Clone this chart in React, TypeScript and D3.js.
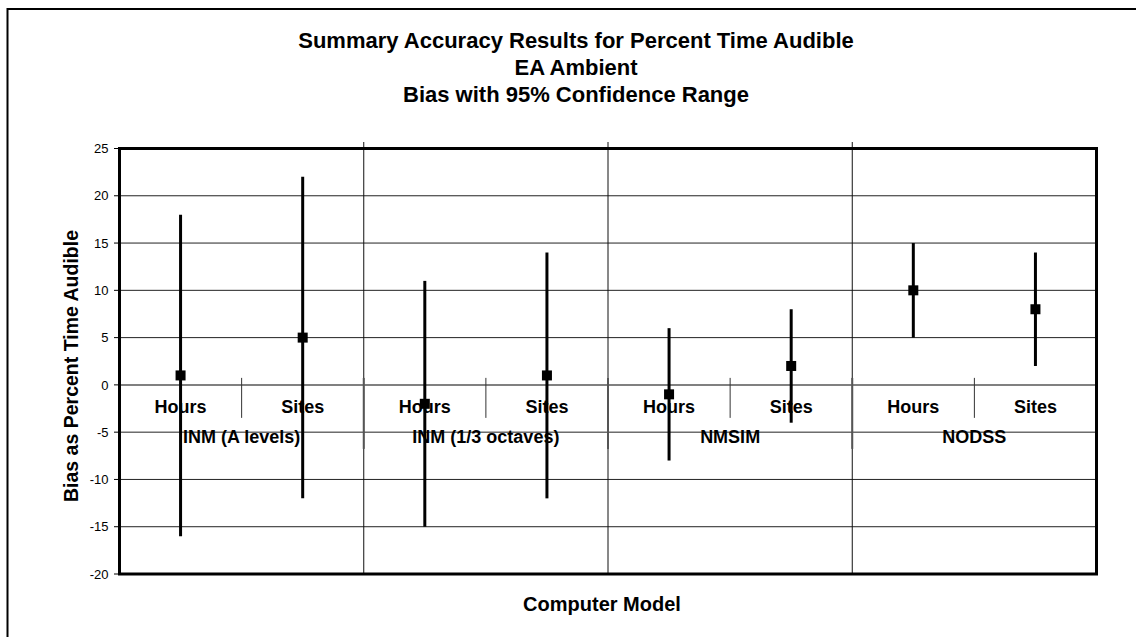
import React from "react";
import * as d3 from "d3";

const groups = ["INM (A levels)", "INM (1/3 octaves)", "NMSIM", "NODSS"];
const subs = ["Hours", "Sites"];
const bias = [1, 5, -2, 1, -1, 2, 10, 8];
const lower = [-16, -12, -15, -12, -8, -4, 5, 2];
const upper = [18, 22, 11, 14, 6, 8, 15, 14];
const yTicks = [-20, -15, -10, -5, 0, 5, 10, 15, 20, 25];
const titleLines = [
  "Summary Accuracy Results for Percent Time Audible",
  "EA Ambient",
  "Bias with 95% Confidence Range",
];

const W = 1136;
const H = 637;
const FONT = "Arial, 'Liberation Sans', sans-serif";

export default function App() {
  const left = 119.5, right = 1096.5, top = 148.5, bottom = 574;
  const items = groups.flatMap((g, gi) => subs.map((s, si) => ({ g, s, i: gi * subs.length + si })));
  const x = d3.scaleBand<number>().domain(items.map((d) => d.i)).range([left, right]).padding(0);
  const xg = d3.scaleBand<string>().domain(groups).range([left, right]).padding(0);
  const y = d3.scaleLinear().domain([-20, 25]).range([bottom, top]);
  const y0 = y(0);
  const cx = (i: number) => (x(i) as number) + x.bandwidth() / 2;

  return (
    <svg width={W} height={H} style={{ position: "absolute", left: 0, top: 0, background: "#fff" }}>
      <rect x={0} y={0} width={W} height={H} fill="#fff" />
      {/* outer frame */}
      <rect x={7.5} y={9} width={W + 20} height={H + 20} fill="none" stroke="#000" strokeWidth={2} />
      {/* title */}
      {titleLines.map((t, i) => (
        <text key={t} x={576} y={48 + i * 27} textAnchor="middle" fontFamily={FONT} fontWeight="bold" fontSize={22}>
          {t}
        </text>
      ))}
      {/* horizontal gridlines */}
      {yTicks.filter((v) => v !== 0 && v !== 25 && v !== -20).map((v) => (
        <line key={v} x1={left} x2={right} y1={y(v)} y2={y(v)} stroke="#222" strokeWidth={1} />
      ))}
      {/* vertical group separators */}
      {groups.slice(1).map((g) => (
        <line key={g} x1={xg(g) as number} x2={xg(g) as number} y1={142} y2={bottom} stroke="#111" strokeWidth={1} />
      ))}
      {/* zero axis line */}
      <line x1={left} x2={right} y1={y0} y2={y0} stroke="#808080" strokeWidth={2} />
      {/* category axis ticks */}
      {groups.map((g) => (
        <line key={"gt" + g} x1={xg(g) as number} x2={xg(g) as number} y1={y0 - 7} y2={y0 + 64} stroke="#555" strokeWidth={2} />
      ))}
      {groups.map((g) => {
        const mx = (xg(g) as number) + xg.bandwidth() / 2;
        return <line key={"st" + g} x1={mx} x2={mx} y1={y0 - 7} y2={y0 + 33} stroke="#333" strokeWidth={1} />;
      })}
      {/* sub labels */}
      {items.map((d) => (
        <text key={"s" + d.i} x={cx(d.i)} y={y0 + 28.5} textAnchor="middle" fontFamily={FONT} fontWeight="bold" fontSize={18}>
          {d.s}
        </text>
      ))}
      {groups.map((g) => (
        <text key={"g" + g} x={(xg(g) as number) + xg.bandwidth() / 2} y={y0 + 58.5} textAnchor="middle" fontFamily={FONT} fontWeight="bold" fontSize={18}>
          {g}
        </text>
      ))}
      {/* y ticks */}
      {yTicks.map((v) => (
        <g key={"yt" + v}>
          <line x1={114} x2={left} y1={y(v)} y2={y(v)} stroke="#000" strokeWidth={1} />
          <text x={108.5} y={y(v)} dy="0.36em" textAnchor="end" fontFamily={FONT} fontSize={13}>
            {v}
          </text>
        </g>
      ))}
      {/* error bars */}
      {items.map((d) => (
        <line key={"e" + d.i} x1={cx(d.i)} x2={cx(d.i)} y1={y(upper[d.i])} y2={y(lower[d.i])} stroke="#000" strokeWidth={3} />
      ))}
      {items.map((d) => (
        <rect key={"m" + d.i} x={cx(d.i) - 5} y={y(bias[d.i]) - 5} width={10} height={10} fill="#000" />
      ))}
      {/* plot border */}
      <rect x={left} y={top} width={right - left} height={bottom - top} fill="none" stroke="#000" strokeWidth={3} />
      {/* axis titles */}
      <text transform={`translate(78,366) rotate(-90)`} textAnchor="middle" fontFamily={FONT} fontWeight="bold" fontSize={19.5}>
        Bias as Percent Time Audible
      </text>
      <text x={602} y={611} textAnchor="middle" fontFamily={FONT} fontWeight="bold" fontSize={20}>
        Computer Model
      </text>
    </svg>
  );
}
